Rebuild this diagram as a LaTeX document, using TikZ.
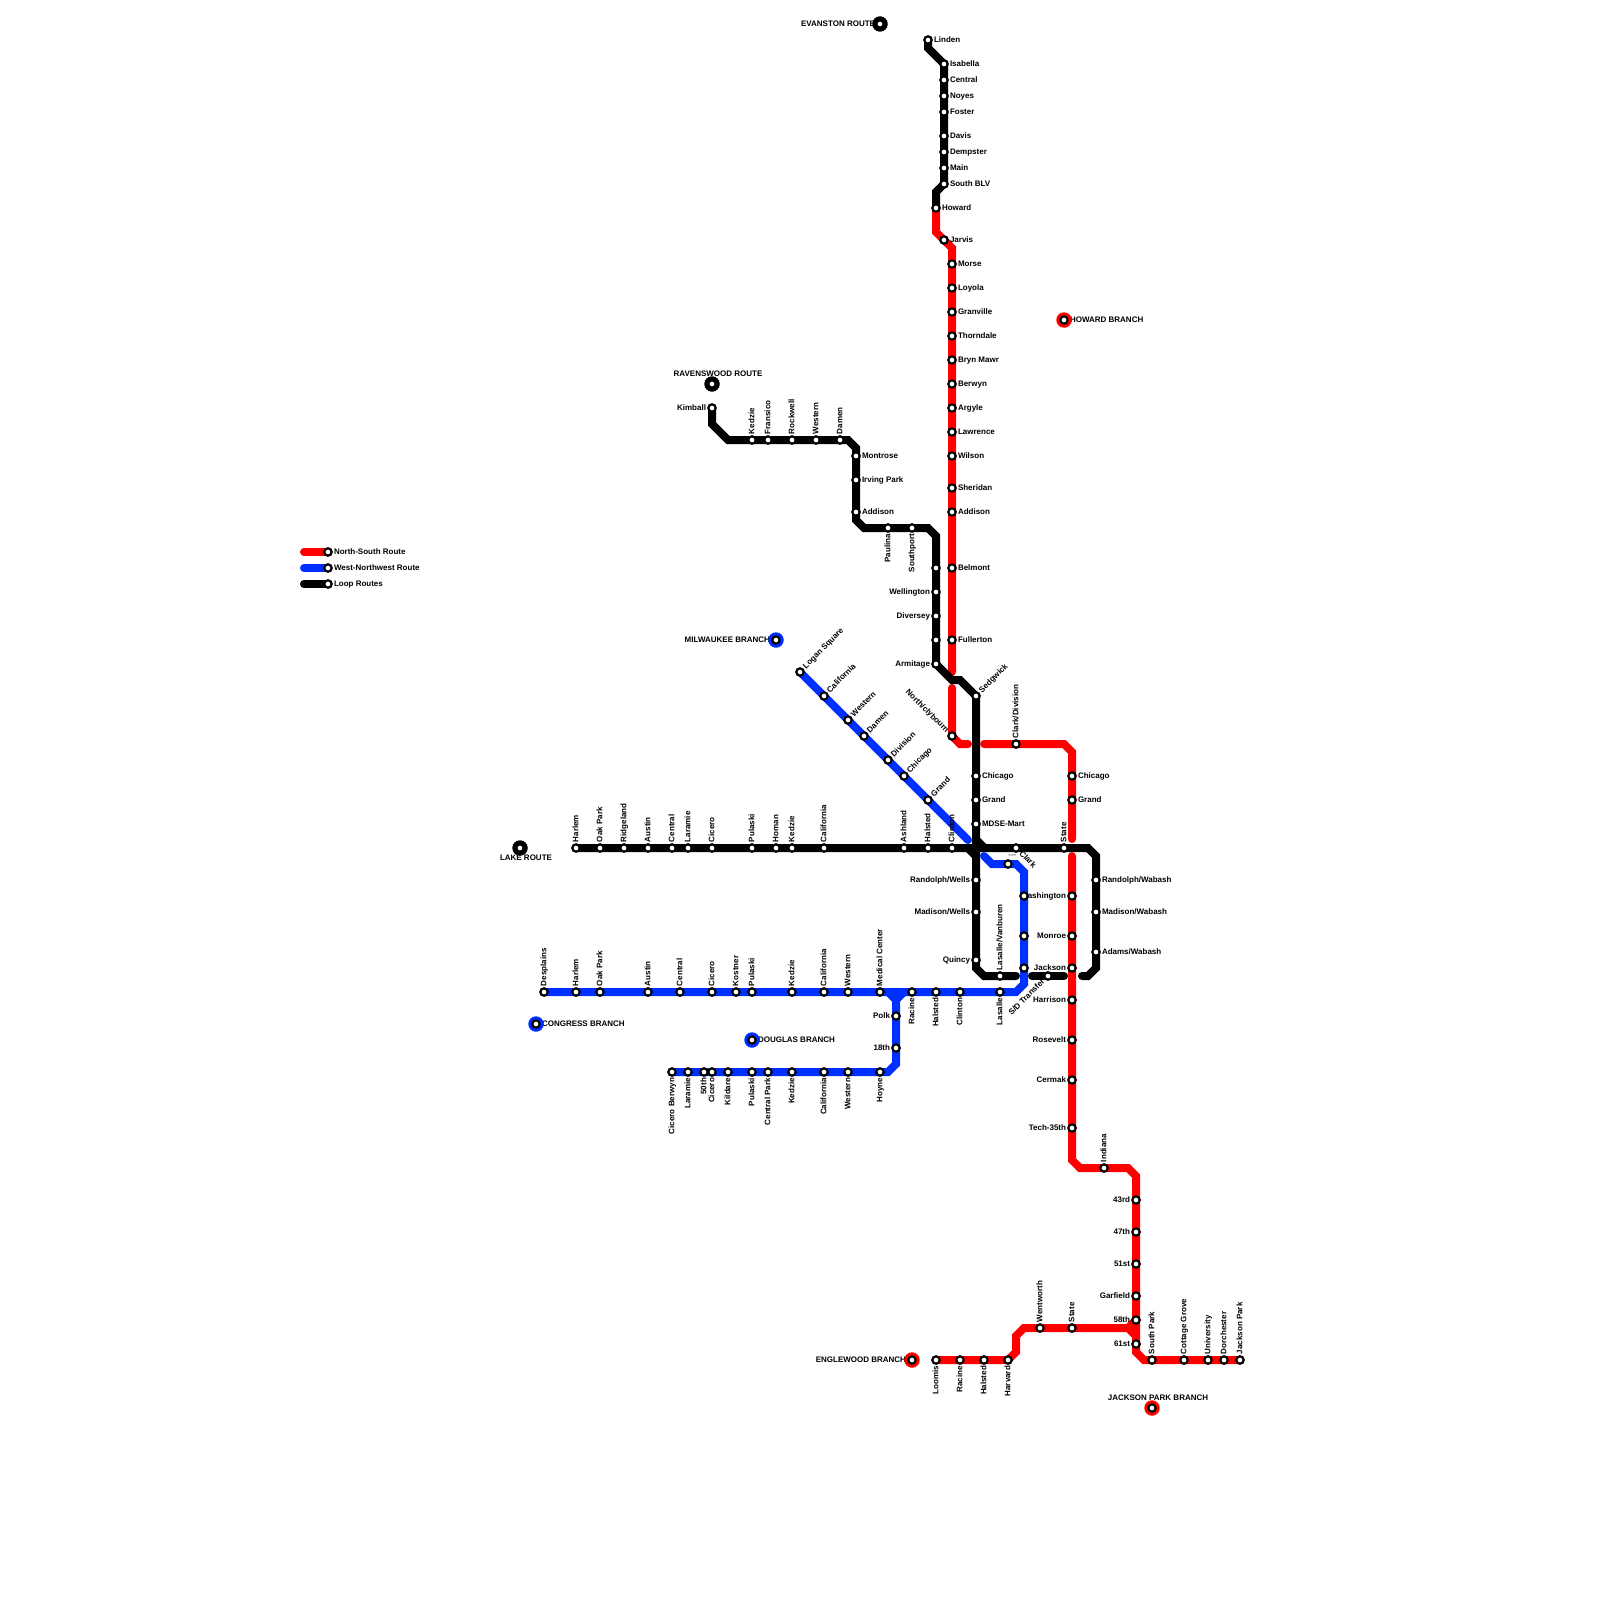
\documentclass[tikz,border=0pt]{standalone}
\usepackage{fontspec}
\setmainfont{Liberation Sans}
\definecolor{nsred}{HTML}{FF0000}
\definecolor{wnblue}{HTML}{0030FF}
\pgfdeclarelayer{lines}
\pgfdeclarelayer{labels}
\pgfsetlayers{lines,labels,main}
\tikzset{
  station/.style={circle,draw=black,fill=white,line width=2.2pt,minimum size=7.4pt,inner sep=0pt,outer sep=0pt},
  iconring/.style={circle,minimum size=15.5pt,inner sep=0pt,outer sep=0pt},
  route/.style={line width=8pt,line cap=round,line join=miter,miter limit=4},
  nsroute/.style={route,draw=nsred},
  wnroute/.style={route,draw=wnblue},
  looproute/.style={route,draw=black},
  txt/.style={font=\bfseries\fontsize{8pt}{9pt}\selectfont,text=black,inner sep=0pt,outer sep=0pt,text height=6pt,text depth=1.5pt},
  lR/.style={txt,shift={(6,0)},anchor=west},
  lL/.style={txt,shift={(-6,0)},anchor=east},
  lA/.style={txt,shift={(0,-6)},rotate=90,anchor=west},
  lB/.style={txt,shift={(0,6)},rotate=90,anchor=east},
  lNE/.style={txt,shift={(4.5,-4.5)},rotate=45,anchor=west},
  lSW/.style={txt,shift={(-4.5,4.5)},rotate=45,anchor=east},
  lNW/.style={txt,shift={(-4.5,-4.5)},rotate=-45,anchor=east},
  lSE/.style={txt,shift={(4.5,4.5)},rotate=-45,anchor=west},
  lFree/.style={txt},
}
% #1 name, #2 x, #3 y, #4 label style, #5 text
\newcommand\stn[5]{%
  \node[station] (#1) at (#2,#3) {};
  \begin{pgfonlayer}{labels}\node[#4] (#1-lab) at (#2,#3) {#5};\end{pgfonlayer}}
% #1 name, #2 x, #3 y, #4 colour, #5 label x, #6 label y, #7 anchor, #8 text
\newcommand\icn[8]{%
  \node[iconring,fill=#4] (#1-ring) at (#2,#3) {};
  \node[station] (#1) at (#2,#3) {};
  \begin{pgfonlayer}{labels}\node[lFree,anchor=#7] (#1-lab) at (#5,#6) {#8};\end{pgfonlayer}}
\begin{document}
\begin{tikzpicture}[x=1pt,y=-1pt]
\useasboundingbox (0,0) rectangle (1600,1600);

% ---------- branch markers
\icn{evanston}{880}{24}{black}{875}{24}{east}{EVANSTON ROUTE}
\icn{howardbr}{1064}{320}{nsred}{1070}{320}{west}{HOWARD BRANCH}
\icn{ravens}{712}{384}{black}{718}{374}{center}{RAVENSWOOD ROUTE}
\icn{milw}{776}{640}{wnblue}{770}{640}{east}{MILWAUKEE BRANCH}
\icn{lake}{520}{848}{black}{526}{858}{center}{LAKE ROUTE}
\icn{congress}{536}{1024}{wnblue}{542}{1024}{west}{CONGRESS BRANCH}
\icn{douglas}{752}{1040}{wnblue}{758}{1040}{west}{DOUGLAS BRANCH}
\icn{englew}{912}{1360}{nsred}{906}{1360}{east}{ENGLEWOOD BRANCH}
\icn{jackbr}{1152}{1408}{nsred}{1158}{1398}{center}{JACKSON PARK BRANCH}

% ---------- legend
\stn{legN}{328}{552}{lR}{North-South Route}
\stn{legW}{328}{568}{lR}{West-Northwest Route}
\stn{legL}{328}{584}{lR}{Loop Routes}
\coordinate (legNs) at (304,552);
\coordinate (legWs) at (304,568);
\coordinate (legLs) at (304,584);

% ---------- Evanston
\stn{linden}{928}{40}{lR}{Linden}
\stn{isabella}{944}{64}{lR}{Isabella}
\stn{central}{944}{80}{lR}{Central}
\stn{noyes}{944}{96}{lR}{Noyes}
\stn{foster}{944}{112}{lR}{Foster}
\stn{davis}{944}{136}{lR}{Davis}
\stn{dempster}{944}{152}{lR}{Dempster}
\stn{main}{944}{168}{lR}{Main}
\stn{southblv}{944}{184}{lR}{South BLV}
\stn{howard}{936}{208}{lR}{Howard}

% ---------- North-South north side
\stn{jarvis}{944}{240}{lR}{Jarvis}
\stn{morse}{952}{264}{lR}{Morse}
\stn{loyola}{952}{288}{lR}{Loyola}
\stn{granville}{952}{312}{lR}{Granville}
\stn{thorndale}{952}{336}{lR}{Thorndale}
\stn{brynmawr}{952}{360}{lR}{Bryn Mawr}
\stn{berwyn}{952}{384}{lR}{Berwyn}
\stn{argyle}{952}{408}{lR}{Argyle}
\stn{lawrence}{952}{432}{lR}{Lawrence}
\stn{wilson}{952}{456}{lR}{Wilson}
\stn{sheridan}{952}{488}{lR}{Sheridan}
\stn{addisonr}{952}{512}{lR}{Addison}
\stn{belmontr}{952}{568}{lR}{Belmont}
\stn{fullertonr}{952}{640}{lR}{Fullerton}
\stn{clybourn}{952}{736}{lNW}{North/clybourn}
\stn{clarkdiv}{1016}{744}{lA}{Clark/Division}
\stn{chicagor}{1072}{776}{lR}{Chicago}
\stn{grandr}{1072}{800}{lR}{Grand}
\stn{washr}{1072}{896}{lL}{Washington}
\stn{monroer}{1072}{936}{lL}{Monroe}
\stn{jacksonr}{1072}{968}{lL}{Jackson}
\stn{harrison}{1072}{1000}{lL}{Harrison}
\stn{rosevelt}{1072}{1040}{lL}{Rosevelt}
\stn{cermak}{1072}{1080}{lL}{Cermak}
\stn{tech}{1072}{1128}{lL}{Tech-35th}
\stn{indiana}{1104}{1168}{lA}{Indiana}
\stn{s43}{1136}{1200}{lL}{43rd}
\stn{s47}{1136}{1232}{lL}{47th}
\stn{s51}{1136}{1264}{lL}{51st}
\stn{garfield}{1136}{1296}{lL}{Garfield}
\stn{s58}{1136}{1320}{lL}{58th}
\stn{s61}{1136}{1344}{lL}{61st}
\stn{southpark}{1152}{1360}{lA}{South Park}
\stn{cottage}{1184}{1360}{lA}{Cottage Grove}
\stn{university}{1208}{1360}{lA}{University}
\stn{dorchester}{1224}{1360}{lA}{Dorchester}
\stn{jackpark}{1240}{1360}{lA}{Jackson Park}
\stn{wentworth}{1040}{1328}{lA}{Wentworth}
\stn{stateE}{1072}{1328}{lA}{State}
\stn{loomis}{936}{1360}{lB}{Loomis}
\stn{racineE}{960}{1360}{lB}{Racine}
\stn{halstedE}{984}{1360}{lB}{Halsted}
\stn{harvard}{1008}{1360}{lB}{Harvard}

% ---------- Ravenswood
\stn{kimball}{712}{408}{lL}{Kimball}
\stn{kedzieR}{752}{440}{lA}{Kedzie}
\stn{fransico}{768}{440}{lA}{Fransico}
\stn{rockwell}{792}{440}{lA}{Rockwell}
\stn{westernR}{816}{440}{lA}{Western}
\stn{damenR}{840}{440}{lA}{Damen}
\stn{montrose}{856}{456}{lR}{Montrose}
\stn{irving}{856}{480}{lR}{Irving Park}
\stn{addisonB}{856}{512}{lR}{Addison}
\stn{paulina}{888}{528}{lB}{Paulina}
\stn{southport}{912}{528}{lB}{Southport}
\stn{belmontB}{936}{568}{lL}{}
\stn{wellington}{936}{592}{lL}{Wellington}
\stn{diversey}{936}{616}{lL}{Diversey}
\stn{fullertonB}{936}{640}{lL}{}
\stn{armitage}{936}{664}{lL}{Armitage}
\stn{sedgwick}{976}{696}{lNE}{Sedgwick}
\stn{chicagoB}{976}{776}{lR}{Chicago}
\stn{grandB}{976}{800}{lR}{Grand}
\stn{mdse}{976}{824}{lR}{MDSE-Mart}
\stn{randwells}{976}{880}{lL}{Randolph/Wells}
\stn{madwells}{976}{912}{lL}{Madison/Wells}
\stn{quincy}{976}{960}{lL}{Quincy}
\stn{lasvan}{1000}{976}{lA}{Lasalle/Vanburen}
\stn{sdtrans}{1048}{976}{lSW}{S/D Transfer}
\stn{randwab}{1096}{880}{lR}{Randolph/Wabash}
\stn{madwab}{1096}{912}{lR}{Madison/Wabash}
\stn{adamswab}{1096}{952}{lR}{Adams/Wabash}

% ---------- Lake
\stn{harlemL}{576}{848}{lA}{Harlem}
\stn{oakparkL}{600}{848}{lA}{Oak Park}
\stn{ridgeland}{624}{848}{lA}{Ridgeland}
\stn{austinL}{648}{848}{lA}{Austin}
\stn{centralL}{672}{848}{lA}{Central}
\stn{laramieL}{688}{848}{lA}{Laramie}
\stn{ciceroL}{712}{848}{lA}{Cicero}
\stn{pulaskiL}{752}{848}{lA}{Pulaski}
\stn{homan}{776}{848}{lA}{Homan}
\stn{kedzieL}{792}{848}{lA}{Kedzie}
\stn{californiaL}{824}{848}{lA}{California}
\stn{ashland}{904}{848}{lA}{Ashland}
\stn{halstedL}{928}{848}{lA}{Halsted}
\stn{clintonL}{952}{848}{lA}{Clinton}
\stn{clark}{1016}{848}{lSE}{Clark}
\stn{stateL}{1064}{848}{lA}{State}

% ---------- Milwaukee
\stn{logan}{800}{672}{lNE}{Logan Square}
\stn{californiaM}{824}{696}{lNE}{California}
\stn{westernM}{848}{720}{lNE}{Western}
\stn{damenM}{864}{736}{lNE}{Damen}
\stn{division}{888}{760}{lNE}{Division}
\stn{chicagoM}{904}{776}{lNE}{Chicago}
\stn{grandM}{928}{800}{lNE}{Grand}
\stn{lake1}{1008}{864}{lFree}{}
\stn{washB}{1024}{896}{lFree}{}
\stn{monroeB}{1024}{936}{lFree}{}
\stn{jacksonB}{1024}{968}{lFree}{}

% ---------- Congress
\stn{desplains}{544}{992}{lA}{Desplains}
\stn{harlemC}{576}{992}{lA}{Harlem}
\stn{oakparkC}{600}{992}{lA}{Oak Park}
\stn{austinC}{648}{992}{lA}{Austin}
\stn{centralC}{680}{992}{lA}{Central}
\stn{ciceroC}{712}{992}{lA}{Cicero}
\stn{kostner}{736}{992}{lA}{Kostner}
\stn{pulaskiC}{752}{992}{lA}{Pulaski}
\stn{kedzieC}{792}{992}{lA}{Kedzie}
\stn{californiaC}{824}{992}{lA}{California}
\stn{westernC}{848}{992}{lA}{Western}
\stn{medical}{880}{992}{lA}{Medical Center}
\stn{racineC}{912}{992}{lB}{Racine}
\stn{halstedC}{936}{992}{lB}{Halsted}
\stn{clintonC}{960}{992}{lB}{Clinton}
\stn{lasalle}{1000}{992}{lB}{Lasalle}
\stn{polk}{896}{1016}{lL}{Polk}
\stn{s18}{896}{1048}{lL}{18th}

% ---------- Douglas
\stn{berwynD}{672}{1072}{lB}{Cicero Berwyn}
\stn{laramieD}{688}{1072}{lB}{Laramie}
\stn{s50}{704}{1072}{lB}{50th}
\stn{ciceroD}{712}{1072}{lB}{Cicero}
\stn{kildare}{728}{1072}{lB}{Kildare}
\stn{pulaskiD}{752}{1072}{lB}{Pulaski}
\stn{centralpark}{768}{1072}{lB}{Central Park}
\stn{kedzieD}{792}{1072}{lB}{Kedzie}
\stn{californiaD}{824}{1072}{lB}{California}
\stn{westernD}{848}{1072}{lB}{Western}
\stn{hoyne}{880}{1072}{lB}{Hoyne}

% ---------- free labels
\begin{pgfonlayer}{labels}
\node[lFree,anchor=center,text=black!45,rotate=90] (lake1-lab2) at (1012,855.5) {|};
\end{pgfonlayer}

% ---------- waypoints
\coordinate (e1) at (928,48);
\coordinate (e2) at (936,192);
\coordinate (r1) at (936,232);
\coordinate (r2) at (952,248);
\coordinate (r3) at (952,672);
\coordinate (r4) at (952,688);
\coordinate (r5) at (960,744);
\coordinate (r6) at (968,744);
\coordinate (r7) at (984,744);
\coordinate (r8) at (1064,744);
\coordinate (r9) at (1072,752);
\coordinate (r10) at (1072,839);
\coordinate (r11) at (1072,856);
\coordinate (r12) at (1072,1160);
\coordinate (r13) at (1080,1168);
\coordinate (r14) at (1128,1168);
\coordinate (r15) at (1136,1176);
\coordinate (r16) at (1136,1352);
\coordinate (r17) at (1144,1360);
\coordinate (w1) at (1128,1328);
\coordinate (w2) at (1136,1336);
\coordinate (w3) at (1024,1328);
\coordinate (w4) at (1016,1336);
\coordinate (w5) at (1016,1352);
\coordinate (b1) at (712,424);
\coordinate (b2) at (728,440);
\coordinate (b3) at (848,440);
\coordinate (b4) at (856,448);
\coordinate (b5) at (856,520);
\coordinate (b6) at (864,528);
\coordinate (b7) at (928,528);
\coordinate (b8) at (936,536);
\coordinate (b9) at (952,680);
\coordinate (b10) at (960,680);
\coordinate (b11) at (976,968);
\coordinate (b12) at (984,976);
\coordinate (b13) at (1016,976);
\coordinate (b14) at (1032,976);
\coordinate (b15) at (1064,976);
\coordinate (b16) at (1082,976);
\coordinate (b17) at (1088,976);
\coordinate (b18) at (1096,968);
\coordinate (b19) at (1096,856);
\coordinate (b20) at (1088,848);
\coordinate (bx1) at (969,855);
\coordinate (bx2) at (983,841);
\coordinate (m1) at (968,840);
\coordinate (m2) at (984,856);
\coordinate (m3) at (992,864);
\coordinate (m4) at (1016,864);
\coordinate (m5) at (1024,872);
\coordinate (m6) at (1024,984);
\coordinate (m7) at (1016,992);
\coordinate (c1) at (888,992);
\coordinate (c2) at (904,992);
\coordinate (c3) at (896,1000);
\coordinate (c4) at (896,1064);
\coordinate (c5) at (888,1072);

% ---------- routes
\begin{pgfonlayer}{lines}
\draw[wnroute] (legWs) -- (legW.center);
\draw[wnroute] (logan.center) -- (m1);
\draw[wnroute] (m2) -- (m3) -- (m4) -- (m5) -- (m6) -- (m7) -- (desplains.center);
\draw[wnroute,line cap=butt] (c1) -- (c3) -- (c2);
\draw[wnroute] (c3) -- (c4) -- (c5) -- (berwynD.center);
\draw[nsroute] (legNs) -- (legN.center);
\draw[nsroute] (howard.center) -- (r1) -- (r2) -- (r3);
\draw[nsroute] (r4) -- (clybourn.center) -- (r5) -- (r6);
\draw[nsroute] (r7) -- (r8) -- (r9) -- (r10);
\draw[nsroute] (r11) -- (r12) -- (r13) -- (r14) -- (r15) -- (r16) -- (r17) -- (jackpark.center);
\draw[nsroute] (loomis.center) -- (harvard.center) -- (w5) -- (w4) -- (w3) -- (w1);
\draw[nsroute,line cap=butt] (s58.center) -- (w1) -- (w2);
\draw[looproute] (legLs) -- (legL.center);
\draw[looproute] (linden.center) -- (e1) -- (isabella.center) -- (southblv.center) -- (e2) -- (howard.center);
\draw[looproute] (kimball.center) -- (b1) -- (b2) -- (b3) -- (b4) -- (b5) -- (b6) -- (b7) -- (b8) -- (armitage.center) -- (b9) -- (b10) -- (sedgwick.center) -- (b11) -- (b12) -- (b13);
\draw[looproute] (b14) -- (b15);
\draw[looproute] (b16) -- (b17) -- (b18) -- (b19) -- (b20) -- (harlemL.center);
\draw[looproute,line cap=butt] (bx1) -- (bx2);
\end{pgfonlayer}
\end{tikzpicture}
\end{document}
